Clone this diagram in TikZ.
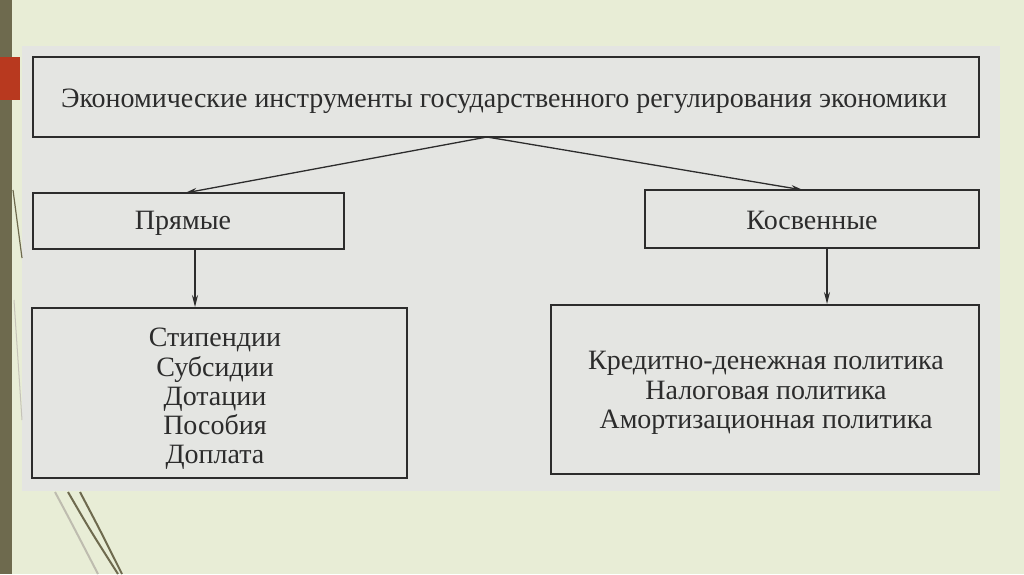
\documentclass[tikz,border=0pt]{standalone}
\usepackage{fontspec}
\setmainfont{Liberation Serif}
\usetikzlibrary{arrows.meta}
\definecolor{slidebg}{HTML}{E8EDD6}
\definecolor{scanbg}{HTML}{E4E5E2}
\definecolor{olive}{HTML}{6E6A4E}
\definecolor{accent}{HTML}{B8391F}
\definecolor{ink}{HTML}{2C2C2C}
\tikzset{
  box/.style={draw=ink, line width=1.8pt, inner sep=0pt},
  lbl/.style={text=ink, font=\fontsize{28}{29.3}\selectfont, align=center, inner sep=0pt},
  conn/.style={draw=ink, line width=1.3pt, -{Stealth[length=12pt,width=6pt]}}
}
\begin{document}
\begin{tikzpicture}[x=1pt,y=-1pt]
\useasboundingbox (0,0) rectangle (1024,574);
% slide background
\fill[slidebg] (0,0) rectangle (1024,574);
\fill[olive] (0,0) rectangle (12,574);
\fill[accent] (0,57) rectangle (20,100);
% scanned image area
\fill[scanbg] (22,46) rectangle (1000,491);
% decorative lines
\draw[olive, line width=1.2pt] (13,190) -- (22,258);
\draw[olive!40, line width=1pt] (14,300) -- (22,420);
\draw[olive!45, line width=2pt] (55,492) .. controls (70,520) .. (98,574);
\draw[olive, line width=2pt] (68,492) .. controls (90,530) .. (118,574);
\draw[olive, line width=2pt] (80,492) .. controls (100,530) .. (122,574);
% boxes
\node[box, minimum width=946pt, minimum height=80pt] (top) at (506,97) {};
\node[lbl] (toptext) at (504,101) {Экономические инструменты государственного регулирования экономики};
\node[box, minimum width=311pt, minimum height=56pt] (pr) at (188.5,221) {};
\node[lbl] (prtext) at (183,223) {Прямые};
\node[box, minimum width=334pt, minimum height=58pt] (ks) at (812,219) {};
\node[lbl] (kstext) at (812,220) {Косвенные};
\node[box, minimum width=375pt, minimum height=170pt] (lb) at (219.5,393) {};
\node[lbl] (lbtext) at (215,399) {Стипендии\\Субсидии\\Дотации\\Пособия\\Доплата};
\node[box, minimum width=428pt, minimum height=169pt] (rb) at (765,389.5) {};
\node[lbl] (rbtext) at (766,393) {Кредитно-денежная политика\\Налоговая политика\\Амортизационная политика};
% connectors
\coordinate (src) at (487,137);
\draw[conn] (src) -- (185,193);
\draw[conn] (src) -- (803,190);
\draw[conn] (195,249) -- (195,307);
\draw[conn] (827,248) -- (827,304);
\end{tikzpicture}
\end{document}
